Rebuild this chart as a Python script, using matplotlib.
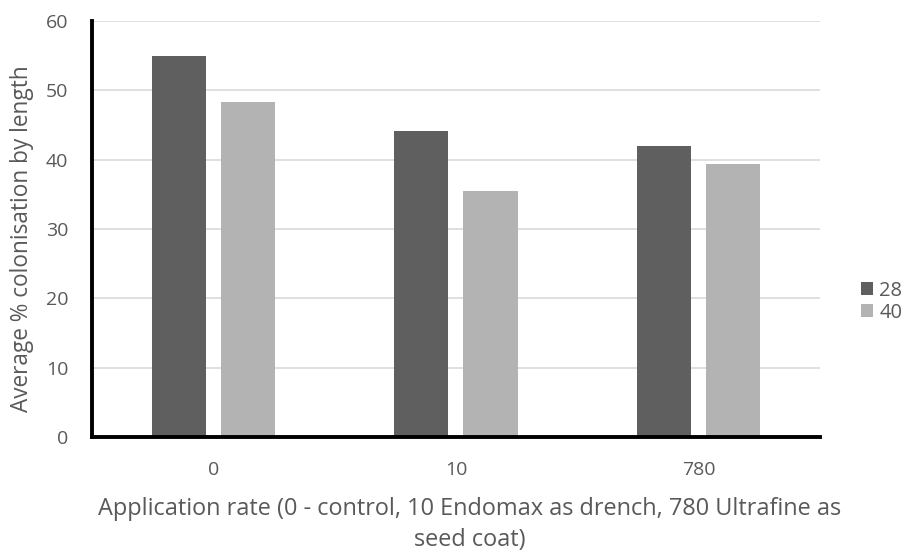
import matplotlib.pyplot as plt
import numpy as np

plt.rcParams["font.family"] = ["Open Sans", "DejaVu Sans"]

rates = ["0", "10", "780"]
days_28 = [55.0, 44.1, 42.0]
days_40 = [48.3, 35.5, 39.4]
series_names = ["28", "40"]
y_ticks = [0, 10, 20, 30, 40, 50, 60]

text_color = "#595959"

fig = plt.figure(figsize=(9.07, 5.51), dpi=100)
ax = fig.add_axes([0.1014, 0.2069, 0.8026, 0.755])

x = np.arange(len(rates))
width = 0.223
offset = 0.1425

ax.bar(x - offset, days_28, width, color="#5f5f5f", label=series_names[0], zorder=3)
ax.bar(x + offset, days_40, width, color="#b3b3b3", label=series_names[1], zorder=3)

ax.set_xlim(-0.5, len(rates) - 0.5)
ax.set_ylim(0, 60)
ax.set_yticks(y_ticks)
ax.set_xticks(x)
ax.set_xticklabels(rates)

ax.grid(axis="y", color="#d9d9d9", linewidth=1.2, zorder=0)
ax.set_axisbelow(True)

for side in ["top", "right"]:
    ax.spines[side].set_visible(False)
for side in ["left", "bottom"]:
    ax.spines[side].set_color("black")
    ax.spines[side].set_linewidth(2.8)
    ax.spines[side].set_zorder(4)

ax.tick_params(axis="both", length=0, labelsize=14, colors=text_color)
ax.tick_params(axis="x", pad=17)
ax.tick_params(axis="y", pad=17)

ax.set_ylabel("Average % colonisation by length", fontsize=16.3, color=text_color)
ax.yaxis.set_label_coords(-0.08, 0.478)
ax.set_xlabel("Application rate (0 - control, 10 Endomax as drench, 780 Ultrafine as\nseed coat)",
              fontsize=16.9, color=text_color, labelpad=13, linespacing=1.38)
ax.xaxis.label.set_x(0.519)

leg = ax.legend(loc="center left", bbox_to_anchor=(1.043, 0.325), frameon=False,
                fontsize=14.5, handlelength=0.6, handleheight=0.6, handletextpad=0.3,
                labelspacing=0.1, borderpad=0)
for t in leg.get_texts():
    t.set_color(text_color)

fig.savefig("out.png", dpi=100)
